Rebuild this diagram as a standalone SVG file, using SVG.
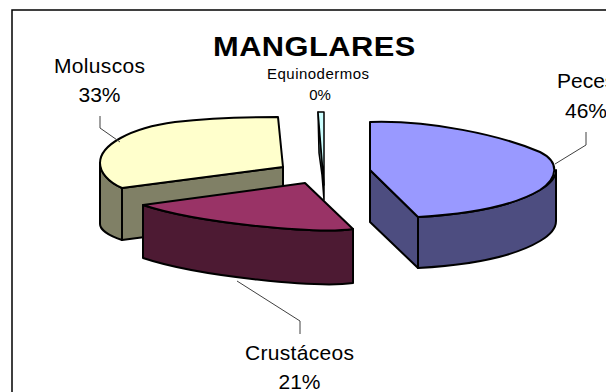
<svg xmlns="http://www.w3.org/2000/svg" width="606" height="392" viewBox="0 0 606 392">
<style>
text{font-family:"Liberation Sans",Arial,sans-serif;fill:#000}
.lbl{font-size:21px}
.sm{font-size:15px}
.ttl{font-size:28px;font-weight:bold}
.edge{stroke:#000;stroke-width:2;stroke-linejoin:round}
.lead{fill:none;stroke:#404040;stroke-width:1}
</style>
<rect x="0" y="0" width="606" height="392" fill="#fff"/>
<rect id="frame" x="12" y="10" width="620" height="410" fill="none" stroke="#000" stroke-width="1.5"/>
<g id="title"><text class="ttl" transform="translate(213,56) scale(1.1,1)" x="0" y="0" textLength="184" lengthAdjust="spacing">MANGLARES</text></g>

<g id="moluscos">
<path class="edge" fill="#808066" d="M100,163 C100,172 108,182 122,188 L122,240 C110,236 100,230 100,224 Z"/>
<path class="edge" fill="#808066" d="M122,188 L283,167 L283,219 L122,240 Z"/>
<path class="edge" fill="#FFFFCC" d="M100,163 C100,145 130,128 175,122 C210,118 250,117 278,117 L283,167 L122,188 C108,182 100,172 100,163 Z"/>
<text class="lbl" x="99.5" y="73" text-anchor="middle" textLength="91" lengthAdjust="spacing">Moluscos</text>
<text class="lbl" x="99.5" y="102" text-anchor="middle">33%</text>
</g>

<g id="equinodermos">
<path stroke="#000" stroke-width="1.5" stroke-linejoin="round" fill="#668080" d="M318,112 L324,185 L324,200 L322,175 L319,153 Z"/>
<path stroke="#000" stroke-width="1.5" stroke-linejoin="round" fill="#CCFFFF" d="M318,112 L324,112 L324,185 Z"/>
<text class="sm" x="318" y="79" text-anchor="middle" textLength="102" lengthAdjust="spacing">Equinodermos</text>
<text class="sm" x="320" y="100" text-anchor="middle">0%</text>
</g>

<g id="crustaceos">
<path class="edge" fill="#4D1A33" d="M143,205 C200,224 320,234 353,229 L353,283 C320,288 200,277 143,258 Z"/>
<path class="edge" fill="#993366" d="M143,205 L305,183 L353,229 C320,234 200,224 143,205 Z"/>
<text class="lbl" x="299.5" y="360" text-anchor="middle" textLength="109" lengthAdjust="spacing">Crustáceos</text>
<text class="lbl" x="299.5" y="389" text-anchor="middle">21%</text>
</g>

<g id="peces">
<path class="edge" fill="#4D4D80" d="M370,170 L418,217 L418,268 L370,222 Z"/>
<path class="edge" fill="#4D4D80" d="M418,217 C470,214 515,205 540,190 C552,183 556,176 556,170 L556,221 C556,227 552,234 540,241 C515,256 470,265 418,268 Z"/>
<path class="edge" fill="#9999FF" d="M370,122 C430,120 500,135 540,152 C560,162 558,178 540,190 C515,205 470,214 418,217 L370,170 Z"/>
<text class="lbl" x="557" y="88">Peces</text>
<text class="lbl" x="565" y="118">46%</text>
</g>

<g id="connectors">
<polyline class="lead" points="100,116 100,128 120,142"/>
<polyline class="lead" points="586,132 586,145 555,164"/>
<polyline class="lead" points="237,281 300,321 300,334"/>
</g>
</svg>
